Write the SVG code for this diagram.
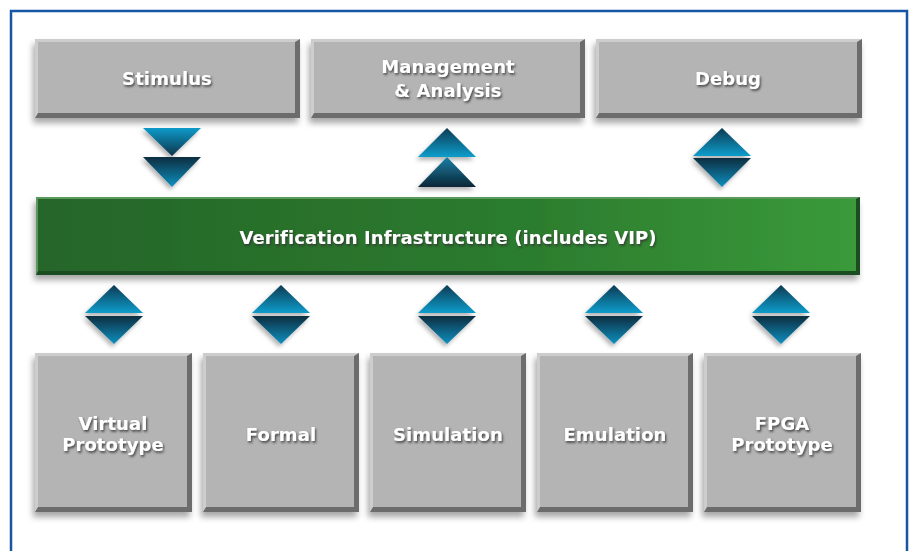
<svg xmlns="http://www.w3.org/2000/svg" width="911" height="551" viewBox="0 0 911 551">
<defs>
<style>
.lbl{font-family:"DejaVu Sans",Verdana,sans-serif;font-weight:bold;font-size:18px;letter-spacing:0.1px;fill:#ffffff;text-anchor:middle;filter:url(#ts)}
.dk{fill:#6c6c6c}
.lt{fill:#cdcdcd}
.face{fill:#b4b4b4}
</style>
<filter id="ts" x="-10%" y="-30%" width="120%" height="160%">
<feDropShadow dx="1.2" dy="1.8" stdDeviation="0.9" flood-color="#303030" flood-opacity="0.85"/>
</filter>
<filter id="sh" x="-10%" y="-10%" width="120%" height="130%">
<feDropShadow dx="-2" dy="5" stdDeviation="3" flood-color="#000" flood-opacity="0.35"/>
</filter>
<filter id="tsh" x="-30%" y="-30%" width="160%" height="160%">
<feDropShadow dx="-2" dy="3" stdDeviation="2" flood-color="#000" flood-opacity="0.3"/>
</filter>
<linearGradient id="gLD" x1="0" y1="0" x2="0" y2="1">
<stop offset="0" stop-color="#0a9bcb"/><stop offset="1" stop-color="#0c3448"/>
</linearGradient>
<linearGradient id="gDL" x1="0" y1="0" x2="0" y2="1">
<stop offset="0" stop-color="#0c2e40"/><stop offset="1" stop-color="#1290c0"/>
</linearGradient>
<linearGradient id="gUp1" x1="0" y1="0" x2="0" y2="1">
<stop offset="0" stop-color="#0b3a52"/><stop offset="1" stop-color="#0a9dcc"/>
</linearGradient>
<linearGradient id="gUp2" x1="0" y1="0" x2="0" y2="1">
<stop offset="0" stop-color="#1a7fa6"/><stop offset="1" stop-color="#0b2736"/>
</linearGradient>
<linearGradient id="gGreen" x1="0" y1="0" x2="1" y2="0">
<stop offset="0" stop-color="#25652a"/><stop offset="0.6" stop-color="#2c7c2e"/><stop offset="1" stop-color="#3a9a3a"/>
</linearGradient>
</defs>
<rect x="0" y="0" width="911" height="551" fill="#ffffff"/>
<rect x="11" y="11" width="896" height="560" fill="none" stroke="#1656a4" stroke-width="2.5"/>

<g id="connectors">
<g id="arr-stimulus" filter="url(#tsh)">
<polygon points="143,128 201,128 172,156" fill="url(#gLD)"/>
<polygon points="143,157 201,157 172,187" fill="url(#gDL)"/>
</g>
<g id="arr-management" filter="url(#tsh)">
<polygon points="447,128 476,157 418,157" fill="url(#gUp1)"/>
<polygon points="447,157 476,187 418,187" fill="url(#gUp2)"/>
</g>
<g id="arr-debug" filter="url(#tsh)">
<polygon points="722,128 751,156 693,156" fill="url(#gUp1)"/>
<polygon points="693,158 751,158 722,187" fill="url(#gDL)"/>
</g>
<g id="arr-bottom" filter="url(#tsh)">
<polygon points="114,285 143,313 85,313" fill="url(#gUp1)"/>
<polygon points="85,316 143,316 114,344" fill="url(#gDL)"/>
<polygon points="281,285 310,313 252,313" fill="url(#gUp1)"/>
<polygon points="252,316 310,316 281,344" fill="url(#gDL)"/>
<polygon points="447,285 476,313 418,313" fill="url(#gUp1)"/>
<polygon points="418,316 476,316 447,344" fill="url(#gDL)"/>
<polygon points="614,285 643,313 585,313" fill="url(#gUp1)"/>
<polygon points="585,316 643,316 614,344" fill="url(#gDL)"/>
<polygon points="781,285 810,313 752,313" fill="url(#gUp1)"/>
<polygon points="752,316 810,316 781,344" fill="url(#gDL)"/>
</g>
</g>

<g id="stimulus" filter="url(#sh)">
<rect class="dk" x="35" y="39" width="265" height="79"/>
<polygon class="lt" points="35,39 300,39 295,42 38,42 38,113 35,118"/>
<rect class="face" x="38" y="42" width="257" height="71"/>
</g>
<text class="lbl" x="167" y="85">Stimulus</text>

<g id="management" filter="url(#sh)">
<rect class="dk" x="311" y="39" width="274" height="79"/>
<polygon class="lt" points="311,39 585,39 580,42 314,42 314,113 311,118"/>
<rect class="face" x="314" y="42" width="266" height="71"/>
</g>
<text class="lbl" x="448" y="73">Management</text>
<text class="lbl" x="448" y="97">&amp; Analysis</text>

<g id="debug" filter="url(#sh)">
<rect class="dk" x="596" y="39" width="266" height="79"/>
<polygon class="lt" points="596,39 862,39 857,42 599,42 599,113 596,118"/>
<rect class="face" x="599" y="42" width="258" height="71"/>
</g>
<text class="lbl" x="728" y="85">Debug</text>

<g id="verification-infrastructure" filter="url(#sh)">
<rect x="36" y="197" width="824" height="78" fill="#1d4d20"/>
<polygon points="36,197 860,197 856,199 38,199 38,271 36,275" fill="#5a9a5c"/>
<rect x="38" y="199" width="818" height="72" fill="url(#gGreen)"/>
</g>
<text class="lbl" x="448" y="244">Verification Infrastructure (includes VIP)</text>

<g id="virtual-prototype" filter="url(#sh)">
<rect class="dk" x="35" y="353" width="157" height="159"/>
<polygon class="lt" points="35,353 192,353 187,356 38,356 38,507 35,512"/>
<rect class="face" x="38" y="356" width="149" height="151"/>
</g>
<text class="lbl" x="113" y="430">Virtual</text>
<text class="lbl" x="113" y="451">Prototype</text>

<g id="formal" filter="url(#sh)">
<rect class="dk" x="203" y="353" width="156" height="159"/>
<polygon class="lt" points="203,353 359,353 354,356 206,356 206,507 203,512"/>
<rect class="face" x="206" y="356" width="148" height="151"/>
</g>
<text class="lbl" x="281" y="441">Formal</text>

<g id="simulation" filter="url(#sh)">
<rect class="dk" x="370" y="353" width="156" height="159"/>
<polygon class="lt" points="370,353 526,353 521,356 373,356 373,507 370,512"/>
<rect class="face" x="373" y="356" width="148" height="151"/>
</g>
<text class="lbl" x="448" y="441">Simulation</text>

<g id="emulation" filter="url(#sh)">
<rect class="dk" x="537" y="353" width="156" height="159"/>
<polygon class="lt" points="537,353 693,353 688,356 540,356 540,507 537,512"/>
<rect class="face" x="540" y="356" width="148" height="151"/>
</g>
<text class="lbl" x="615" y="441">Emulation</text>

<g id="fpga-prototype" filter="url(#sh)">
<rect class="dk" x="704" y="353" width="157" height="159"/>
<polygon class="lt" points="704,353 861,353 856,356 707,356 707,507 704,512"/>
<rect class="face" x="707" y="356" width="149" height="151"/>
</g>
<text class="lbl" x="782" y="430">FPGA</text>
<text class="lbl" x="782" y="451">Prototype</text>
</svg>
